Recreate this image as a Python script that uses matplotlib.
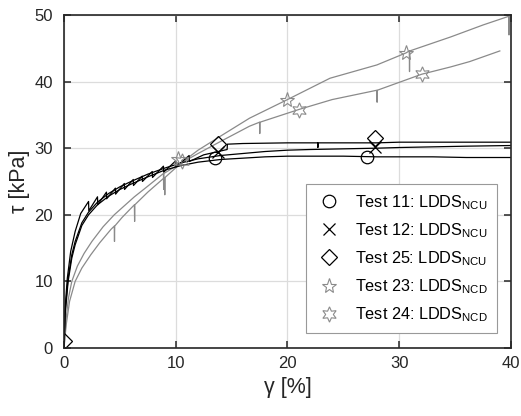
import matplotlib
matplotlib.use('Agg')
import matplotlib.pyplot as plt

plt.rcParams['font.family'] = ['Liberation Sans', 'DejaVu Sans']
plt.rcParams['mathtext.fontset'] = 'custom'
plt.rcParams['mathtext.rm'] = 'Liberation Sans'
plt.rcParams['mathtext.it'] = 'Liberation Sans:italic'

# --- data (gamma in %, tau in kPa) ---
g11 = [0, 0.1, 0.37, 0.7, 1.0, 1.6, 2.2, 3, 4, 5, 6, 7.5, 9, 10.5, 12, 14, 16, 18, 20, 22,
       25, 28, 30, 33, 36, 40]
t11 = [0, 5, 10, 13.5, 15.5, 18.4, 20.0, 21.5, 22.8, 23.8, 24.6, 25.7, 26.7, 27.4, 27.9,
       28.3, 28.5, 28.7, 28.8, 28.8, 28.8, 28.7, 28.7, 28.7, 28.6, 28.6]

g12 = [0, 0.1, 0.37, 0.7, 1.0, 1.6, 2.2, 3, 4, 5, 6, 7.5, 9, 10.5, 12, 14, 16, 18, 20, 22,
       25, 28, 30, 33, 36, 40]
t12 = [0, 5.5, 10.5, 14, 16, 18.8, 20.4, 21.9, 23.2, 24.2, 25.0, 26.1, 27.0, 27.8, 28.4,
       28.9, 29.2, 29.5, 29.7, 29.8, 29.9, 30.0, 30.1, 30.2, 30.3, 30.4]

g25 = [0, 0.1, 0.3, 0.6, 1.0, 1.5, 2.2, 2.22, 3.0, 3.02, 3.8, 3.82, 4.6, 4.62, 5.4, 5.42,
       6.2, 6.22, 7.0, 7.02, 7.9, 7.92, 8.9, 8.92, 10.0, 10.02, 11.2, 11.22, 12.5, 14.6,
       14.62, 16, 20, 22.7, 22.72, 22.74, 25, 28, 30, 33, 36, 40]
t25 = [0, 6, 10.5, 14.5, 17.5, 20.2, 22.0, 20.6, 22.7, 21.5, 23.4, 22.4, 24.0, 23.1, 24.7,
       23.8, 25.3, 24.4, 25.8, 25.0, 26.5, 25.6, 27.3, 26.4, 28.1, 27.2, 28.9, 28.0, 29.0,
       29.8, 30.6, 30.7, 30.8, 30.8, 30.1, 30.8, 30.8, 30.8, 30.9, 30.9, 30.9, 30.9]

g23 = [0, 0.2, 0.5, 1.0, 1.6, 2.4, 3.2, 4.2, 4.5, 4.52, 4.54, 5.2, 6.3, 6.32, 6.34, 7.5,
       9.0, 9.02, 9.04, 10.5, 12, 14, 16.6, 20, 23.8, 28, 30.6, 30.9, 30.92, 30.94, 34.6,
       37.5, 39.8, 39.82, 39.84, 40]
t23 = [0, 3.5, 7, 10, 12, 14, 15.8, 17.8, 18.3, 16.0, 18.3, 19.6, 21.5, 19.0, 21.5, 23.4,
       25.6, 23.0, 25.6, 27.8, 29.7, 31.8, 34.5, 37.3, 40.5, 42.5, 44.3, 44.6, 41.5, 44.6,
       46.7, 48.5, 49.8, 47.0, 49.8, 50]

g24 = [0, 0.2, 0.4, 0.7, 1.2, 1.8, 2.5, 3.5, 4.5, 5.5, 6.3, 7.5, 8.9, 8.92, 8.94, 10.5,
       12, 14, 16.6, 17.5, 17.52, 17.54, 21, 24, 28, 28.02, 28.04, 32, 34.6, 36.3, 39]
t24 = [0, 4.5, 7.5, 10, 12.3, 14.2, 16, 18.2, 20, 21.5, 22.7, 24.3, 26.2, 23.8, 26.2, 27.8,
       29.2, 31, 33.3, 33.9, 32.2, 33.9, 35.8, 37.3, 38.7, 36.9, 38.7, 41.1, 42.2, 43, 44.6]

# marker positions
m11_g, m11_t = [13.5, 27.1], [28.5, 28.7]
m12_g, m12_t = [13.8, 27.8], [29.5, 30.2]
m25_g, m25_t = [0, 13.8, 27.8], [1, 30.6, 31.6]
m23_g, m23_t = [10.2, 20, 30.6], [28.4, 37.3, 44.3]
m24_g, m24_t = [10.6, 21, 32], [28.1, 35.8, 41.1]

labels = [r'Test 11: LDDS$_{\mathrm{NCU}}$', r'Test 12: LDDS$_{\mathrm{NCU}}$',
          r'Test 25: LDDS$_{\mathrm{NCU}}$', r'Test 23: LDDS$_{\mathrm{NCD}}$',
          r'Test 24: LDDS$_{\mathrm{NCD}}$']

grey = '#8a8a8a'
txt = '#262626'
fig = plt.figure(figsize=(5.21, 4.16), dpi=100)
ax = fig.add_axes([0.1228, 0.1635, 0.858, 0.8005])

for g, t, c in [(g23, t23, grey), (g24, t24, grey),
                (g11, t11, 'k'), (g12, t12, 'k'), (g25, t25, 'k')]:
    ax.plot(g, t, color=c, lw=0.9, zorder=3)

ax.plot(m11_g, m11_t, 'o', mfc='none', mec='k', ms=9, mew=0.9, ls='none', label=labels[0], zorder=4)
ax.plot(m12_g, m12_t, 'x', color='k', ms=9, mew=0.9, ls='none', label=labels[1], zorder=4)
ax.plot(m25_g, m25_t, 'D', mfc='none', mec='k', ms=8, mew=0.9, ls='none', label=labels[2], zorder=4)
ax.plot(m23_g, m23_t, '*', mfc='none', mec=grey, ms=11, mew=0.8, ls='none', label=labels[3], zorder=4)
ax.plot(m24_g, m24_t, marker=(6, 1, 0), mfc='none', mec=grey, ms=11, mew=0.8, ls='none',
        label=labels[4], zorder=4)

ax.set_xlim(0, 40)
ax.set_ylim(0, 50)
ax.set_xticks([0, 10, 20, 30, 40])
ax.set_yticks([0, 10, 20, 30, 40, 50])
ax.grid(True, color='#dcdcdc', lw=0.9)
ax.set_axisbelow(True)
ax.tick_params(direction='in', top=True, right=True, length=5, width=1.1,
               labelsize=12, colors=txt)
ax.tick_params(axis='x', pad=6)
ax.tick_params(axis='y', pad=8)
for s in ax.spines.values():
    s.set_linewidth(1.2)
    s.set_color(txt)
    s.set_zorder(5)

ax.set_xlabel('\u03b3 [%]', fontsize=15.5, color=txt, labelpad=4)
ax.set_ylabel('\u03c4 [kPa]', fontsize=15.5, color=txt, labelpad=3)

leg = ax.legend(loc='lower right', bbox_to_anchor=(0.9687, 0.045), borderaxespad=0,
                fontsize=11.7, frameon=True, fancybox=False, framealpha=1,
                edgecolor='#999999', handletextpad=0.7, labelspacing=0.58,
                borderpad=0.55, handlelength=1.8)
leg.get_frame().set_linewidth(0.8)
leg.set_zorder(6)

fig.savefig('out.png', dpi=100)
